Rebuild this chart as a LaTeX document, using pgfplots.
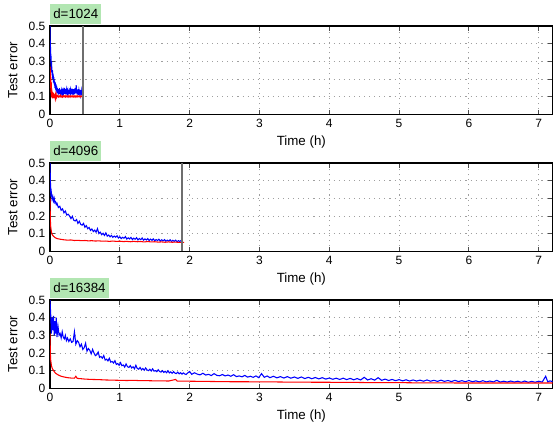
\documentclass[border=0pt]{standalone}
\usepackage{fontspec}
\setmainfont{Liberation Sans}
\usepackage{pgfplots}
\pgfplotsset{compat=1.18}
\definecolor{titlegreen}{RGB}{178,230,178}
\definecolor{cutline}{RGB}{110,110,110}

\pgfplotsset{
  panel/.style={
    scale only axis,
    width=377pt, height=66.2pt,
    xmin=0, xmax=7.2, ymin=0, ymax=0.5,
    xtick={0,1,2,3,4,5,6,7},
    ytick={0,0.1,0.2,0.3,0.4,0.5},
    tick align=inside,
    major tick length=3.5pt,
    tick style={black!70, line width=0.6pt},
    axis line style={black, line width=0.8pt},
    grid=major,
    grid style={gray!75, line width=0.6pt, dash pattern=on 0.8pt off 3pt},
    tick label style={font=\fontsize{9}{10}\selectfont},
    /pgf/number format/assume math mode=true,
    label style={font=\fontsize{10}{12}\selectfont},
    xlabel={Time (h)},
    ylabel={Test error},
    xlabel style={at={(axis description cs:0.5,-0.317)}, anchor=center},
    ylabel style={at={(axis description cs:-0.074,0.5)}, anchor=center},
    title style={at={(axis description cs:0,1)}, anchor=south west,
      fill=titlegreen, inner xsep=2.3pt, inner ysep=3.6pt, yshift=-4.5pt,
      font=\fontsize{10}{12}\selectfont},
    no markers,
  },
  blueline/.style={blue, line width=0.8pt},
  redline/.style={red, line width=0.8pt},
}

\begin{document}
\begin{tikzpicture}
\path[use as bounding box] (-37.5pt,85.7pt) rectangle (377.25pt,-233pt);

% d = 1024
\begin{axis}[panel, at={(0,0)}, anchor=south west, title={d=1024}]
\addplot[blueline] coordinates {
(0,0.50) (0.003,0.42) (0.006,0.33) (0.009,0.38) (0.012,0.29) (0.015,0.33)
(0.018,0.26) (0.021,0.30) (0.024,0.24) (0.027,0.27) (0.030,0.22) (0.035,0.25)
(0.040,0.20) (0.045,0.23) (0.050,0.18) (0.055,0.21) (0.060,0.17) (0.065,0.19)
(0.070,0.15) (0.075,0.18) (0.080,0.14) (0.085,0.17) (0.090,0.13) (0.095,0.16)
(0.100,0.120) (0.105,0.150) (0.110,0.118) (0.115,0.142) (0.120,0.112) (0.125,0.138)
(0.130,0.122) (0.135,0.148) (0.140,0.115) (0.145,0.136) (0.150,0.110) (0.155,0.140)
(0.160,0.120) (0.165,0.133) (0.170,0.112) (0.175,0.145) (0.180,0.118) (0.185,0.130)
(0.190,0.110) (0.195,0.142) (0.200,0.122) (0.205,0.150) (0.210,0.115) (0.215,0.138)
(0.220,0.120) (0.225,0.143) (0.230,0.112) (0.235,0.135) (0.240,0.118) (0.245,0.146)
(0.250,0.120) (0.255,0.132) (0.260,0.110) (0.265,0.140) (0.270,0.118) (0.275,0.138)
(0.280,0.114) (0.285,0.148) (0.290,0.120) (0.295,0.135) (0.300,0.112) (0.305,0.140)
(0.310,0.122) (0.315,0.145) (0.320,0.115) (0.325,0.137) (0.330,0.110) (0.335,0.142)
(0.340,0.120) (0.345,0.138) (0.350,0.113) (0.355,0.145) (0.360,0.122) (0.365,0.150)
(0.370,0.118) (0.375,0.165) (0.380,0.120) (0.385,0.140) (0.390,0.112) (0.395,0.136)
(0.400,0.118) (0.405,0.142) (0.410,0.110) (0.415,0.134) (0.420,0.120) (0.425,0.140)
(0.430,0.112) (0.435,0.135) (0.440,0.117) (0.445,0.138) (0.450,0.110) (0.455,0.133)
(0.460,0.118) (0.465,0.140) (0.470,0.112) (0.475,0.130) (0.480,0.120)
};
\addplot[redline] coordinates {
(0,0.27) (0.003,0.20) (0.006,0.25) (0.009,0.15) (0.012,0.21) (0.015,0.12)
(0.018,0.18) (0.021,0.10) (0.024,0.15) (0.027,0.095) (0.030,0.13) (0.035,0.09)
(0.040,0.125) (0.045,0.095) (0.050,0.12) (0.055,0.09) (0.060,0.115) (0.065,0.092)
(0.070,0.113) (0.075,0.094) (0.080,0.110) (0.085,0.095) (0.090,0.108) (0.095,0.096)
(0.100,0.100) (0.110,0.106) (0.120,0.098) (0.130,0.104) (0.140,0.099) (0.150,0.107)
(0.160,0.098) (0.170,0.103) (0.180,0.097) (0.190,0.105) (0.200,0.099) (0.210,0.104)
(0.220,0.098) (0.230,0.106) (0.240,0.099) (0.250,0.103) (0.260,0.097) (0.270,0.105)
(0.280,0.099) (0.290,0.104) (0.300,0.098) (0.310,0.103) (0.320,0.099) (0.330,0.106)
(0.340,0.098) (0.350,0.103) (0.360,0.097) (0.370,0.104) (0.380,0.099) (0.390,0.105)
(0.400,0.098) (0.410,0.103) (0.420,0.099) (0.430,0.104) (0.440,0.098) (0.450,0.103)
(0.460,0.099) (0.470,0.104) (0.480,0.100)
};
\addplot[cutline, line width=1.4pt] coordinates {(0.47,0) (0.47,0.5)};
\end{axis}

% d = 4096
\begin{axis}[panel, at={(0,-102.75pt)}, anchor=south west, title={d=4096}]
\addplot[blueline] coordinates {
(0.00,0.50) (0.005,0.41) (0.01,0.34) (0.015,0.31) (0.02,0.33) (0.03,0.295)
(0.04,0.31) (0.05,0.285) (0.06,0.30) (0.07,0.275) (0.08,0.28) (0.09,0.265)
(0.10,0.272) (0.12,0.248) (0.14,0.255) (0.16,0.232) (0.18,0.24) (0.20,0.218)
(0.22,0.228) (0.24,0.205) (0.26,0.21) (0.28,0.20) (0.30,0.185) (0.32,0.198)
(0.34,0.176) (0.36,0.172) (0.38,0.18) (0.40,0.158) (0.42,0.17) (0.44,0.152)
(0.46,0.148) (0.48,0.158) (0.50,0.136) (0.52,0.145) (0.54,0.128) (0.56,0.135)
(0.58,0.118) (0.60,0.126) (0.62,0.112) (0.64,0.12) (0.66,0.108) (0.68,0.128)
(0.70,0.10) (0.72,0.108) (0.74,0.094) (0.76,0.102) (0.78,0.09) (0.80,0.104)
(0.82,0.086) (0.84,0.092) (0.86,0.082) (0.88,0.09) (0.90,0.079) (0.92,0.086)
(0.94,0.08) (0.96,0.088) (0.98,0.075) (1.00,0.082) (1.02,0.072) (1.04,0.079)
(1.06,0.074) (1.08,0.083) (1.10,0.069) (1.12,0.076) (1.14,0.07) (1.16,0.078)
(1.18,0.066) (1.20,0.074) (1.22,0.068) (1.24,0.077) (1.26,0.064) (1.28,0.072)
(1.30,0.066) (1.32,0.075) (1.34,0.063) (1.36,0.07) (1.38,0.064) (1.40,0.072)
(1.42,0.061) (1.44,0.069) (1.46,0.062) (1.48,0.07) (1.50,0.06) (1.52,0.066)
(1.54,0.061) (1.56,0.068) (1.58,0.058) (1.60,0.065) (1.62,0.059) (1.64,0.066)
(1.66,0.057) (1.68,0.063) (1.70,0.058) (1.72,0.065) (1.74,0.056) (1.76,0.062)
(1.78,0.056) (1.80,0.063) (1.82,0.054) (1.84,0.06) (1.86,0.055) (1.88,0.062)
(1.90,0.056)
};
\addplot[redline] coordinates {
(0,0.30) (0.005,0.18) (0.01,0.14) (0.02,0.11) (0.03,0.095) (0.05,0.085)
(0.07,0.078) (0.10,0.072) (0.15,0.068) (0.20,0.065) (0.25,0.063) (0.30,0.064)
(0.35,0.061) (0.40,0.062) (0.45,0.060) (0.50,0.061) (0.55,0.059) (0.60,0.060)
(0.65,0.058) (0.70,0.059) (0.75,0.057) (0.80,0.058) (0.85,0.056) (0.90,0.058)
(0.95,0.056) (1.00,0.057) (1.05,0.055) (1.10,0.056) (1.15,0.054) (1.20,0.056)
(1.25,0.054) (1.30,0.055) (1.35,0.053) (1.40,0.055) (1.45,0.053) (1.50,0.054)
(1.55,0.052) (1.60,0.053) (1.65,0.051) (1.70,0.053) (1.75,0.051) (1.80,0.052)
(1.85,0.050) (1.90,0.051) (1.92,0.050)
};
\addplot[cutline, line width=1.4pt] coordinates {(1.895,0) (1.895,0.5)};
\end{axis}

% d = 16384
\begin{axis}[panel, at={(0,-205.5pt)}, anchor=south west, title={d=16384}]
\addplot[blueline] coordinates {
(0,0.50) (0.01,0.42) (0.02,0.31) (0.03,0.40) (0.04,0.33) (0.05,0.41)
(0.06,0.30) (0.07,0.38) (0.08,0.31) (0.09,0.40) (0.10,0.29) (0.115,0.35)
(0.13,0.30) (0.145,0.31) (0.16,0.285) (0.175,0.32) (0.19,0.29) (0.205,0.28)
(0.22,0.30) (0.235,0.27) (0.25,0.285) (0.27,0.265) (0.29,0.28) (0.31,0.26)
(0.33,0.265) (0.35,0.32) (0.37,0.25) (0.39,0.27) (0.41,0.26) (0.43,0.235)
(0.45,0.25) (0.47,0.22) (0.49,0.23) (0.51,0.255) (0.53,0.21) (0.55,0.225)
(0.57,0.215) (0.59,0.195) (0.61,0.22) (0.63,0.20) (0.65,0.185) (0.67,0.19)
(0.69,0.205) (0.71,0.175) (0.73,0.18) (0.75,0.17) (0.77,0.185) (0.79,0.16)
(0.81,0.165) (0.83,0.155) (0.85,0.17) (0.87,0.148) (0.89,0.152) (0.91,0.143)
(0.93,0.156) (0.95,0.135) (0.97,0.14) (0.99,0.13) (1.01,0.145) (1.03,0.128)
(1.05,0.132) (1.07,0.12) (1.09,0.138) (1.11,0.122) (1.13,0.118) (1.15,0.128)
(1.17,0.115) (1.19,0.122) (1.21,0.11) (1.23,0.13) (1.25,0.112) (1.27,0.108)
(1.29,0.118) (1.31,0.105) (1.33,0.112) (1.35,0.102) (1.37,0.115) (1.39,0.104)
(1.41,0.10) (1.43,0.108) (1.45,0.098) (1.47,0.11) (1.49,0.097) (1.51,0.10)
(1.53,0.094) (1.55,0.105) (1.57,0.095) (1.59,0.092) (1.61,0.10) (1.63,0.09)
(1.65,0.096) (1.67,0.088) (1.69,0.099) (1.71,0.087) (1.73,0.093) (1.75,0.085)
(1.77,0.094) (1.79,0.086) (1.81,0.083) (1.83,0.091) (1.85,0.082) (1.87,0.088)
(1.89,0.08) (1.91,0.087) (1.93,0.081) (1.95,0.078) (1.97,0.086) (2.00,0.095)
(2.03,0.079) (2.07,0.088) (2.11,0.08) (2.15,0.076) (2.19,0.085) (2.23,0.075)
(2.27,0.079) (2.31,0.072) (2.35,0.083) (2.39,0.073) (2.43,0.071) (2.47,0.078)
(2.51,0.07) (2.55,0.075) (2.59,0.068) (2.63,0.077) (2.67,0.066) (2.71,0.07)
(2.75,0.065) (2.79,0.073) (2.83,0.063) (2.87,0.068) (2.91,0.062) (2.95,0.07)
(2.99,0.06) (3.03,0.083) (3.07,0.062) (3.11,0.07) (3.15,0.06) (3.20,0.068)
(3.25,0.059) (3.30,0.066) (3.35,0.058) (3.40,0.066) (3.45,0.057) (3.50,0.064)
(3.55,0.056) (3.60,0.064) (3.65,0.055) (3.70,0.062) (3.75,0.054) (3.80,0.061)
(3.85,0.053) (3.90,0.06) (3.95,0.052) (4.00,0.058) (4.05,0.051) (4.10,0.057)
(4.15,0.05) (4.20,0.057) (4.25,0.049) (4.30,0.056) (4.35,0.048) (4.40,0.055)
(4.45,0.047) (4.50,0.062) (4.55,0.047) (4.60,0.054) (4.65,0.046) (4.70,0.06)
(4.75,0.045) (4.80,0.052) (4.85,0.044) (4.90,0.05) (4.95,0.043) (5.00,0.049)
(5.05,0.042) (5.10,0.048) (5.15,0.041) (5.20,0.047) (5.25,0.041) (5.30,0.046)
(5.35,0.04) (5.40,0.047) (5.45,0.04) (5.50,0.045) (5.55,0.039) (5.60,0.046)
(5.65,0.039) (5.70,0.044) (5.75,0.038) (5.80,0.045) (5.85,0.038) (5.90,0.043)
(5.95,0.037) (6.00,0.044) (6.05,0.037) (6.10,0.042) (6.15,0.036) (6.20,0.043)
(6.25,0.036) (6.30,0.041) (6.35,0.036) (6.40,0.045) (6.45,0.035) (6.50,0.04)
(6.55,0.035) (6.60,0.041) (6.65,0.035) (6.70,0.04) (6.75,0.034) (6.80,0.041)
(6.85,0.034) (6.90,0.039) (6.95,0.034) (7.00,0.04) (7.05,0.035) (7.10,0.068)
(7.13,0.036) (7.16,0.042) (7.20,0.038)
};
\addplot[redline] coordinates {
(0,0.31) (0.005,0.20) (0.01,0.16) (0.02,0.13) (0.03,0.115) (0.05,0.10)
(0.08,0.085) (0.12,0.075) (0.16,0.068) (0.20,0.064) (0.25,0.060) (0.30,0.058)
(0.35,0.057) (0.37,0.068) (0.39,0.056) (0.45,0.054) (0.50,0.052) (0.60,0.050)
(0.70,0.049) (0.80,0.047) (0.90,0.046) (1.00,0.045) (1.10,0.044) (1.20,0.045)
(1.30,0.043) (1.40,0.043) (1.50,0.042) (1.60,0.042) (1.70,0.041) (1.80,0.050)
(1.82,0.041) (1.90,0.040) (2.00,0.040) (2.20,0.039) (2.40,0.038) (2.60,0.037)
(2.80,0.037) (3.00,0.036) (3.20,0.036) (3.40,0.035) (3.60,0.035) (3.80,0.034)
(4.00,0.034) (4.20,0.033) (4.40,0.033) (4.60,0.032) (4.80,0.032) (5.00,0.032)
(5.20,0.031) (5.40,0.031) (5.60,0.031) (5.80,0.030) (6.00,0.030) (6.20,0.030)
(6.40,0.030) (6.60,0.030) (6.80,0.030) (7.00,0.030) (7.20,0.030)
};
\end{axis}
\end{tikzpicture}
\end{document}
